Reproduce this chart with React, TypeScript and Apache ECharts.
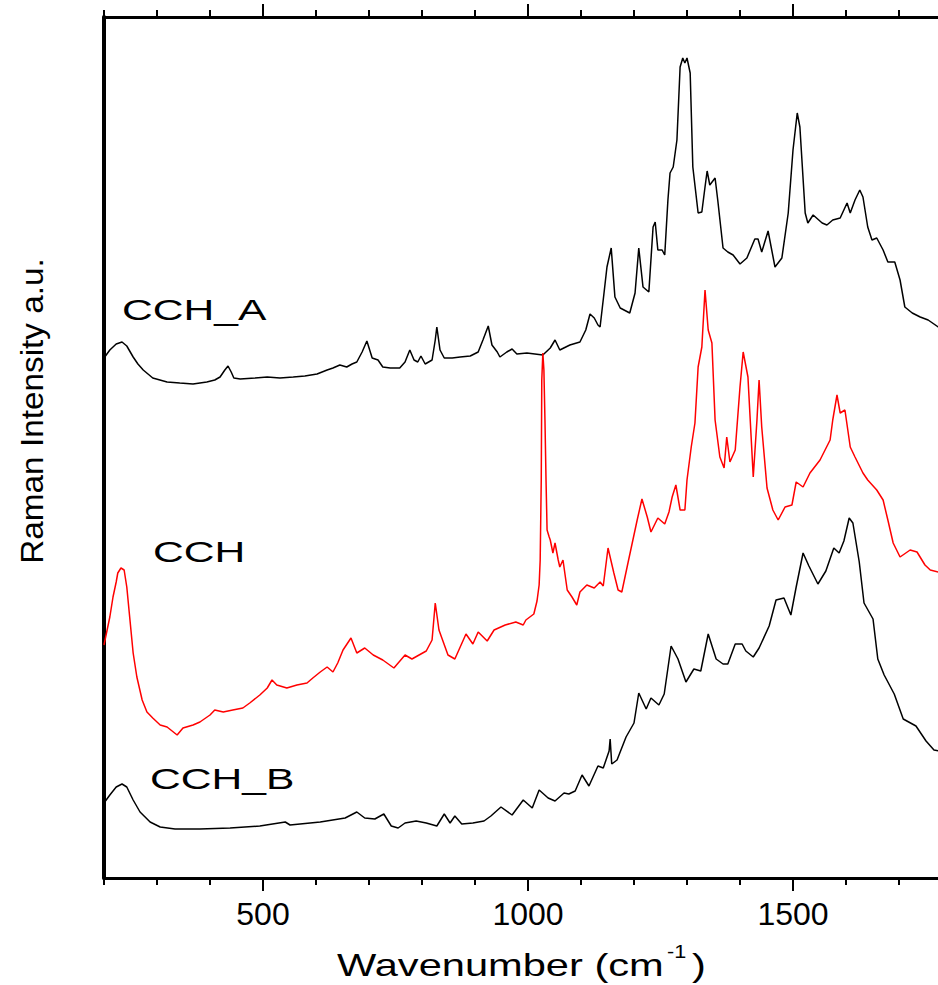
import React, { useEffect, useRef } from 'react';
import * as echarts from 'echarts';

// x axis ticks (cm^-1)
const tickValues = [200, 300, 400, 500, 600, 700, 800, 900, 1000, 1100, 1200, 1300, 1400, 1500, 1600, 1700, 1800];
const majorTickValues = [500, 1000, 1500];

// CCH_A (top, black)
const cchAWavenumber = [200,211,223,234,243,255,264,274,292,319,343,368,394,409,419,428,434,440,445,457,485,508,532,557,579,602,621,632,645,658,668,677,687,696,706,717,726,740,758,768,777,785,792,798,806,819,825,828,834,842,857,872,891,906,915,925,932,942,947,960,970,979,998,1013,1028,1042,1051,1060,1079,1098,1109,1117,1125,1132,1136,1143,1149,1157,1164,1174,1192,1202,1209,1217,1228,1236,1240,1245,1253,1258,1264,1268,1274,1281,1287,1292,1296,1300,1306,1311,1321,1328,1334,1338,1343,1353,1358,1368,1377,1387,1400,1413,1428,1434,1441,1453,1466,1479,1491,1500,1508,1513,1523,1528,1538,1555,1564,1575,1589,1602,1608,1617,1626,1632,1641,1649,1658,1670,1679,1692,1702,1711,1725,1740,1755,1774,1787,1800];
const cchAIntensity = [520,528,534,536,532,521,514,508,500,496,495,494,496,498,501,508,512,506,500,499,500,501,500,501,502,504,508,510,513,511,514,516,526,537,520,518,511,510,510,516,528,518,516,522,514,518,538,551,528,520,520,521,522,526,538,552,533,526,521,526,529,524,525,524,523,530,538,528,533,536,548,564,560,553,551,583,611,630,581,570,565,585,630,591,586,651,656,628,628,623,678,705,711,738,811,820,815,820,805,711,665,666,691,707,693,700,678,630,626,623,614,620,639,639,626,647,611,620,665,728,765,751,665,655,663,655,653,658,660,675,665,678,688,681,651,638,640,628,616,616,598,571,565,561,558,551,548,546];

// CCH (middle, red)
const cchWavenumber = [200,211,217,223,226,232,238,243,249,255,262,272,281,292,306,319,338,349,368,381,400,409,425,443,462,475,494,508,517,526,545,564,583,594,608,621,632,641,651,666,677,692,708,726,747,768,781,808,819,825,832,849,862,883,896,906,923,936,957,977,991,996,1011,1017,1021,1023,1025,1026,1028,1030,1032,1034,1036,1040,1042,1047,1051,1057,1060,1066,1074,1083,1092,1098,1111,1125,1136,1142,1151,1162,1170,1177,1189,1206,1215,1225,1232,1245,1258,1266,1272,1279,1287,1296,1300,1308,1315,1321,1328,1334,1340,1347,1353,1362,1370,1375,1381,1391,1400,1406,1415,1425,1432,1436,1441,1451,1462,1472,1485,1498,1506,1519,1532,1551,1570,1575,1583,1589,1598,1608,1617,1632,1641,1658,1670,1679,1689,1702,1721,1734,1749,1759,1774,1787,1800];
const cchIntensity = [233,261,281,296,305,310,308,291,258,225,201,178,166,160,153,151,143,150,153,156,163,168,166,168,170,175,183,190,198,193,190,193,195,200,206,211,206,215,228,240,225,230,223,218,210,223,219,227,238,275,248,223,219,244,234,246,237,248,253,256,253,258,264,277,293,318,398,498,525,508,458,398,348,341,338,325,335,318,311,318,288,281,273,286,293,290,296,292,330,305,288,286,316,358,379,361,346,360,354,366,381,393,368,368,398,431,455,511,531,588,548,535,458,421,410,441,416,428,491,526,501,401,458,498,451,390,368,358,371,373,396,391,405,418,438,458,483,465,468,431,421,405,398,388,378,358,335,321,328,326,313,308,306,306,303];

// CCH_B (bottom, black)
const cchBWavenumber = [200,211,223,234,243,255,268,287,306,334,381,438,494,542,551,608,655,677,692,711,728,742,755,768,789,808,828,842,853,862,875,896,917,930,949,970,991,1008,1021,1038,1051,1068,1077,1089,1102,1115,1132,1142,1153,1155,1158,1168,1185,1200,1209,1223,1232,1247,1257,1270,1283,1298,1313,1326,1340,1355,1368,1377,1391,1404,1411,1425,1436,1455,1468,1483,1496,1506,1519,1530,1547,1562,1577,1587,1596,1606,1613,1625,1634,1651,1660,1672,1691,1708,1732,1751,1766,1777,1800];
const cchBIntensity = [75,83,91,94,91,78,66,56,51,49,49,50,52,56,53,56,60,66,60,59,64,52,50,55,57,55,52,64,55,62,54,55,57,62,71,63,78,70,88,80,77,85,84,87,103,92,112,110,127,139,114,118,141,155,185,169,180,173,184,232,219,196,209,207,244,219,214,214,234,234,227,221,230,252,278,280,263,291,325,312,294,307,330,325,337,360,355,316,275,259,219,203,184,159,152,137,128,127,123];

const FONT = "'Liberation Sans', Arial, Helvetica, sans-serif";

const zip = (xs: number[], ys: number[]) => xs.map((x, i) => [x, ys[i]]);

export default function App() {
  const ref = useRef<HTMLDivElement>(null);

  useEffect(() => {
    if (!ref.current) return;
    const chart = echarts.init(ref.current, null, { renderer: 'svg' });
    const cats = tickValues.map(String);
    const isMajor = (i: number) => majorTickValues.indexOf(tickValues[i]) >= 0;
    const axisLineStyle = { color: '#000', width: 3 };
    const tickLineStyle = { color: '#000', width: 2 };

    const valueAxis = (position: string) => ({
      type: 'value',
      position,
      min: 200,
      max: 1800,
      interval: 100,
      axisLine: { show: true, onZero: false, lineStyle: axisLineStyle },
      axisTick: { show: true, inside: false, length: 7, lineStyle: tickLineStyle },
      axisLabel: { show: false },
      splitLine: { show: false },
    });
    const catAxis = (position: string, showLabels: boolean) => ({
      type: 'category',
      position,
      data: cats,
      boundaryGap: false,
      axisLine: { show: false, onZero: false },
      axisTick: { show: true, inside: false, length: 13, interval: (i: number) => isMajor(i), lineStyle: tickLineStyle },
      axisLabel: {
        show: showLabels,
        interval: (i: number) => isMajor(i),
        margin: 20,
        fontSize: 32,
        fontFamily: FONT,
        color: '#000',
      },
      splitLine: { show: false },
    });

    const seriesLabel = (text: string, x: number, y: number) => ({
      type: 'text',
      x,
      y,
      scaleX: 1.47,
      style: { text, fontSize: 29, fontFamily: FONT, fill: '#000', align: 'left', verticalAlign: 'middle' },
    });

    chart.setOption({
      animation: false,
      backgroundColor: '#fff',
      grid: { left: 104, right: 48, top: 17, bottom: 107, containLabel: false },
      xAxis: [valueAxis('bottom'), catAxis('bottom', true), valueAxis('top'), catAxis('top', false)],
      yAxis: {
        type: 'value',
        min: 0,
        max: 861,
        axisLine: { show: true, lineStyle: { color: '#000', width: 4 } },
        axisTick: { show: false },
        axisLabel: { show: false },
        splitLine: { show: false },
      },
      graphic: [
        {
          type: 'text',
          x: 32,
          y: 411,
          rotation: Math.PI / 2,
          scaleX: 1.075,
          style: { text: 'Raman Intensity a.u.', fontSize: 31, fontFamily: FONT, fill: '#000', align: 'center', verticalAlign: 'middle' },
        },
        {
          type: 'group',
          x: 337,
          y: 965,
          children: [
            {
              type: 'text',
              x: 0,
              y: 0,
              scaleX: 1.3,
              style: { text: 'Wavenumber (cm', fontSize: 32, fontFamily: FONT, fill: '#000', align: 'left', verticalAlign: 'middle' },
            },
            {
              type: 'text',
              x: 330,
              y: -13,
              scaleX: 1.2,
              style: { text: '-1', fontSize: 18, fontFamily: FONT, fill: '#000', align: 'left', verticalAlign: 'middle' },
            },
            {
              type: 'text',
              x: 355,
              y: 0,
              scaleX: 1.3,
              style: { text: ')', fontSize: 32, fontFamily: FONT, fill: '#000', align: 'left', verticalAlign: 'middle' },
            },
          ],
        },
        seriesLabel('CCH_A', 122, 310),
        seriesLabel('CCH', 153, 552),
        seriesLabel('CCH_B', 150, 779),
      ],
      series: [
        {
          name: 'CCH_A',
          type: 'line',
          xAxisIndex: 0,
          yAxisIndex: 0,
          data: zip(cchAWavenumber, cchAIntensity),
          showSymbol: false,
          symbol: 'none',
          lineStyle: { color: '#000', width: 1.5 },
          silent: true,
        },
        {
          name: 'CCH',
          type: 'line',
          xAxisIndex: 0,
          yAxisIndex: 0,
          data: zip(cchWavenumber, cchIntensity),
          showSymbol: false,
          symbol: 'none',
          lineStyle: { color: '#ff0000', width: 1.5 },
          silent: true,
        },
        {
          name: 'CCH_B',
          type: 'line',
          xAxisIndex: 0,
          yAxisIndex: 0,
          data: zip(cchBWavenumber, cchBIntensity),
          showSymbol: false,
          symbol: 'none',
          lineStyle: { color: '#000', width: 1.5 },
          silent: true,
        },
      ],
    });

    return () => {
      chart.dispose();
    };
  }, []);

  return (
    <div style={{ position: 'fixed', left: 0, top: 0, width: 938, height: 985, overflow: 'hidden', background: '#fff' }}>
      <div ref={ref} style={{ width: 1000, height: 985 }} />
    </div>
  );
}
